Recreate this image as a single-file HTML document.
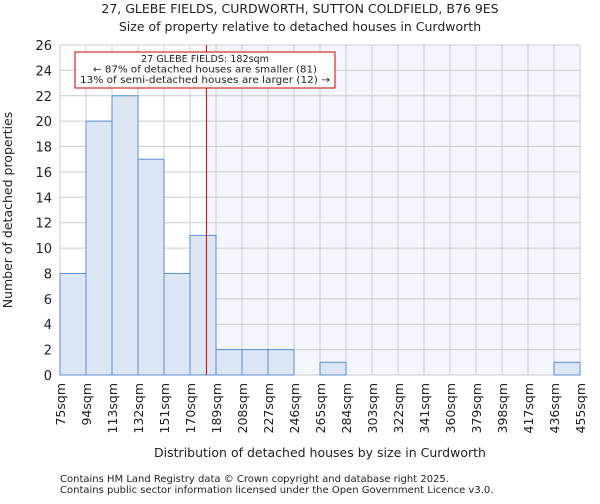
<!DOCTYPE html>
<html><head><meta charset="utf-8"><style>
body{margin:0;background:#fff;font-family:"DejaVu Sans","Liberation Sans",sans-serif;}
svg text{font-family:"DejaVu Sans","Liberation Sans",sans-serif;fill:#222;}
</style></head><body>
<svg id="chart" width="600" height="500" xmlns="http://www.w3.org/2000/svg">
<text x="300" y="13" text-anchor="middle" font-size="12.5">27, GLEBE FIELDS, CURDWORTH, SUTTON COLDFIELD, B76 9ES</text>
<text x="300" y="31" text-anchor="middle" font-size="12.5">Size of property relative to detached houses in Curdworth</text>
<g id="plot"></g>
<text transform="translate(12,210) rotate(-90)" text-anchor="middle" font-size="12.5">Number of detached properties</text>
<text x="320" y="457" text-anchor="middle" font-size="12.5">Distribution of detached houses by size in Curdworth</text>
<text x="60" y="482" font-size="10">Contains HM Land Registry data © Crown copyright and database right 2025.</text>
<text x="60" y="493" font-size="10">Contains public sector information licensed under the Open Government Licence v3.0.</text>
</svg>
<script>
const binEdges=[75,94,113,132,151,170,189,208,227,246,265,284,303,322,341,360,379,398,417,436,455];
const counts=[8,20,22,17,8,11,2,2,2,0,1,0,0,0,0,0,0,0,0,1];
const yTicks=[0,2,4,6,8,10,12,14,16,18,20,22,24,26];
const marker=182;
const X0=60,X1=580,Y0=375,Y1=45,XMIN=75,XMAX=455,YMAX=26;
const xs=v=>X0+(v-XMIN)/(XMAX-XMIN)*(X1-X0);
const ys=v=>Y0-v/YMAX*(Y0-Y1);
const NS="http://www.w3.org/2000/svg";
const g=document.getElementById('plot');
function mk(t,a){const e=document.createElementNS(NS,t);for(const k in a)e.setAttribute(k,a[k]);g.appendChild(e);return e;}
let bg=mk('rect',{x:X0,y:Y1,width:X1-X0,height:Y0-Y1,fill:'#fff'});


let bg2=mk('rect',{x:xs(marker),y:Y1,width:X1-xs(marker),height:Y0-Y1,fill:'#f3f6fd'});


binEdges.forEach(v=>{let l=mk('line',{x1:xs(v),x2:xs(v),y1:Y1,y2:Y0,stroke:'#cccccc','stroke-width':1});

});
yTicks.forEach(v=>{let l=mk('line',{x1:X0,x2:X1,y1:ys(v),y2:ys(v),stroke:'#cccccc','stroke-width':1});


let t=mk('text',{x:X0-8,y:ys(v)+5,'text-anchor':'end','font-size':13});t.textContent=v;

});
counts.forEach((c,i)=>{if(c<=0)return;let r=mk('rect',{x:xs(binEdges[i]),y:ys(c),width:xs(binEdges[i+1])-xs(binEdges[i]),height:Y0-ys(c),fill:'#dce6f4',stroke:'#5b8fd6','stroke-width':1});

});
binEdges.forEach(v=>{let t=mk('text',{transform:`translate(${xs(v)+5},383) rotate(-90)`,'text-anchor':'end','font-size':12.5});t.textContent=v+'sqm';

});
let ml=mk('line',{x1:xs(marker),x2:xs(marker),y1:Y1,y2:Y0,stroke:'#cc0000','stroke-width':1});


let box=mk('rect',{x:75,y:52,width:260,height:36,fill:'#fff',stroke:'#cc0000','stroke-width':1});


["27 GLEBE FIELDS: 182sqm","← 87% of detached houses are smaller (81)","13% of semi-detached houses are larger (12) →"].forEach((s,i)=>{
let t=mk('text',{x:205,y:62+i*10.5,'text-anchor':'middle','font-size':10,textLength:i==0?128:(i==1?224:250),lengthAdjust:'spacingAndGlyphs'});t.textContent=s;

});
</script>
</body></html>
